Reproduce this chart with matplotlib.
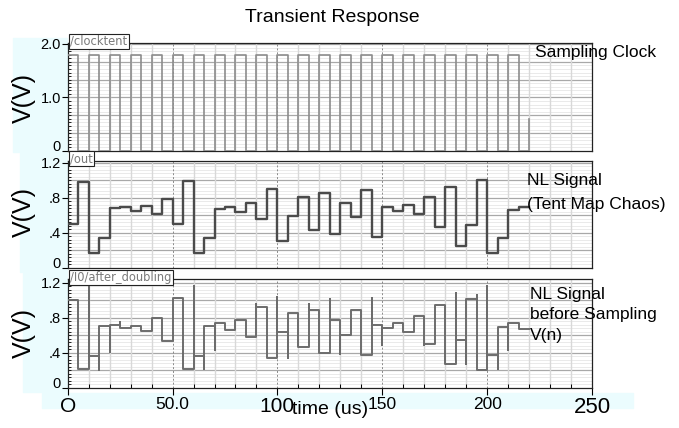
import matplotlib
matplotlib.use("Agg")
import matplotlib.pyplot as plt
from matplotlib.ticker import MultipleLocator
from matplotlib.patches import Rectangle

# ---- data (time in us, value in V) ----
step_t = [0, 5, 10, 15, 20, 25, 30, 35, 40, 45, 50, 55, 60, 65, 70, 75, 80, 85, 90, 95,
          100, 105, 110, 115, 120, 125, 130, 135, 140, 145, 150, 155, 160, 165, 170, 175,
          180, 185, 190, 195, 200, 205, 210, 215, 220]

# sampling clock (last point: simulation ends mid-edge)
clk_v = [1.8, 0.0, 1.8, 0.0, 1.8, 0.0, 1.8, 0.0, 1.8, 0.0, 1.8, 0.0, 1.8, 0.0, 1.8, 0.0,
         1.8, 0.0, 1.8, 0.0, 1.8, 0.0, 1.8, 0.0, 1.8, 0.0, 1.8, 0.0, 1.8, 0.0, 1.8, 0.0,
         1.8, 0.0, 1.8, 0.0, 1.8, 0.0, 1.8, 0.0, 1.8, 0.0, 1.8, 0.0, 0.6]

# /out : sampled tent-map signal, one level per 5 us slot
out_v = [0.50, 0.98, 0.17, 0.34, 0.68, 0.69, 0.65, 0.71, 0.62, 0.785,
         0.50, 0.995, 0.17, 0.34, 0.667, 0.70, 0.633, 0.743, 0.553, 0.896,
         0.31, 0.59, 0.81, 0.43, 0.85, 0.38, 0.735, 0.576, 0.888, 0.347,
         0.69, 0.65, 0.713, 0.614, 0.804, 0.469, 0.919, 0.248, 0.49, 1.0,
         0.164, 0.336, 0.66, 0.70]

# /I0/after_doubling : levels per 5 us slot plus glitches at some edges
dbl_v = [1.00, 0.21, 0.36, 0.70, 0.72, 0.68, 0.71, 0.65, 0.80, 0.53,
         1.02, 0.21, 0.36, 0.70, 0.74, 0.66, 0.77, 0.58, 0.92, 0.34,
         0.64, 0.85, 0.46, 0.89, 0.40, 0.77, 0.60, 0.89, 0.37, 0.72,
         0.68, 0.74, 0.64, 0.82, 0.50, 0.95, 0.27, 0.54, 1.01, 0.20,
         0.37, 0.69, 0.74, 0.67]
glitch_t = [10, 15, 20, 25, 60, 65, 70, 90, 100, 105, 115, 125, 130, 145, 150, 170,
            185, 190, 195, 200, 205, 210]
glitch_v = [1.17, 0.20, 0.41, 0.75, 1.16, 0.21, 0.43, 0.96, 1.04, 0.34, 0.96, 1.01, 0.39,
            1.02, 0.49, 0.49, 1.08, 0.27, 1.06, 1.16, 0.21, 0.43]

W, H = 679, 428
SANS = ["Liberation Sans", "DejaVu Sans"]
CYAN = "#ebfcfe"


def rect(x0, x1, ytop, ybot):
    return [x0 / W, 1 - ybot / H, (x1 - x0) / W, (ybot - ytop) / H]


def fx(x):
    return x / W


def fy(y):
    return 1 - y / H


def style_axes(ax, ymax, major_h, minor_h, yticks, ylabels):
    ax.set_xlim(0, 250)
    ax.set_ylim(0, ymax)
    for v in range(10, 250, 10):
        if v % 50 == 0:
            ax.axvline(v, color="#8a8a8a", lw=0.7, ls=(0, (2, 2)), zorder=1)
        else:
            ax.axvline(v, color="#d8d8d8", lw=1.0, zorder=1)
    k = 1
    while k * minor_h < ymax:
        ax.axhline(k * minor_h, color="#e6e6e6", lw=0.6, zorder=0.5)
        k += 1
    k = 1
    while k * major_h < ymax - 1e-6:
        ax.axhline(k * major_h, color="#a8a8a8", lw=0.9, zorder=0.8)
        k += 1
    ax.set_yticks(yticks)
    ax.set_yticklabels(ylabels, fontfamily=SANS, fontsize=10.5)
    # the "0" label sits on the bottom line, as in the viewer
    ax.get_yticklabels()[0].set_verticalalignment("baseline")
    ax.yaxis.set_minor_locator(MultipleLocator(minor_h))
    ax.tick_params(axis="y", which="major", direction="out", length=4, pad=1)
    ax.tick_params(axis="y", which="minor", direction="in", length=2.5, width=0.6)
    ax.xaxis.set_major_locator(MultipleLocator(50))
    ax.xaxis.set_minor_locator(MultipleLocator(10))
    for s in ax.spines.values():
        s.set_color("#222222")
        s.set_linewidth(0.9)


fig = plt.figure(figsize=(W / 100, H / 100), dpi=100)

# light-cyan selection highlights behind labels (drawn under everything)
for (x0, y0, x1, y1) in [(13, 38, 67, 152), (20, 153, 67, 272), (23, 273, 67, 392), (42, 393, 633, 408)]:
    fig.patches.append(Rectangle((fx(x0), fy(y1)), (x1 - x0) / W, (y1 - y0) / H,
                                 transform=fig.transFigure, color=CYAN, zorder=-5))

ax1 = fig.add_axes(rect(67.7, 592, 43.3, 151))
ax2 = fig.add_axes(rect(67.7, 592, 160.7, 267.7))
ax3 = fig.add_axes(rect(67.7, 592, 279, 387.7))

style_axes(ax1, 2.013, 1 / 3, 1 / 15, [0, 1.0, 2.0], ["0", "1.0", "2.0"])
style_axes(ax2, 1.224, 0.2, 0.04, [0, 0.4, 0.8, 1.2], ["0", ".4", ".8", "1.2"])
style_axes(ax3, 1.242, 0.2, 0.04, [0, 0.4, 0.8, 1.2], ["0", ".4", ".8", "1.2"])

for ax in (ax1, ax2):
    ax.tick_params(axis="x", which="both", length=0, labelbottom=False)

ax1.plot(step_t, clk_v, drawstyle="steps-post", color="#8c8c8c", lw=1.2, zorder=3)
ax2.plot(step_t, out_v + [out_v[-1]], drawstyle="steps-post", color="#4b4b4b", lw=1.7, zorder=3)

# build the after_doubling trace with its edge glitches
gx, gy = [], []
glitch = dict(zip(glitch_t, glitch_v))
for i, lev in enumerate(dbl_v):
    t0, t1 = step_t[i], step_t[i + 1]
    if t0 in glitch:
        gx.append(t0)
        gy.append(glitch[t0])
    gx += [t0, t1]
    gy += [lev, lev]
ax3.plot(gx, gy, color="#6c6c6c", lw=1.4, zorder=3)

# x axis of bottom panel
ax3.tick_params(axis="x", which="major", direction="out", length=5, pad=2)
ax3.tick_params(axis="x", which="minor", direction="in", length=3, width=0.7)
ax3.set_xticks([0, 50, 100, 150, 200, 250])
ax3.set_xticklabels(["O", "50.0", "100", "150", "200", "250"])
for lab, size in zip(ax3.get_xticklabels(), [15, 12.5, 15, 12.5, 12.5, 16]):
    lab.set_fontfamily(SANS)
    lab.set_fontsize(size)

fig.text(fx(292), fy(410), "time (us)", fontfamily=SANS, fontsize=14, ha="left", va="center")

# title and axis labels
fig.text(fx(332), fy(17), "Transient Response", fontfamily=SANS, fontsize=14, ha="center", va="center")
for yc in (98, 212, 333):
    fig.text(fx(24), fy(yc), "V(V)", fontfamily=SANS, fontsize=18, rotation=90, ha="center", va="center")

# signal name tabs
for y, name in [(41.5, "/clocktent"), (158.5, "/out"), (277.5, "/I0/after_doubling")]:
    fig.text(fx(70), fy(y), name, fontfamily="DejaVu Sans", fontsize=8.3, color="#7a7a7a",
             ha="left", va="center",
             bbox=dict(boxstyle="square,pad=0.12", fc="white", ec="#222222", lw=0.8))

# annotations on the right
fig.text(fx(535), fy(52), "Sampling Clock", fontfamily=SANS, fontsize=12.5, ha="left", va="center")
fig.text(fx(527), fy(192), "NL Signal\n(Tent Map Chaos)", fontfamily=SANS, fontsize=12.5,
         ha="left", va="center", linespacing=1.75)
fig.text(fx(530), fy(315), "NL Signal\nbefore Sampling\nV(n)", fontfamily=SANS, fontsize=12.5,
         ha="left", va="center", linespacing=1.45)

fig.savefig("out.png", dpi=100)
